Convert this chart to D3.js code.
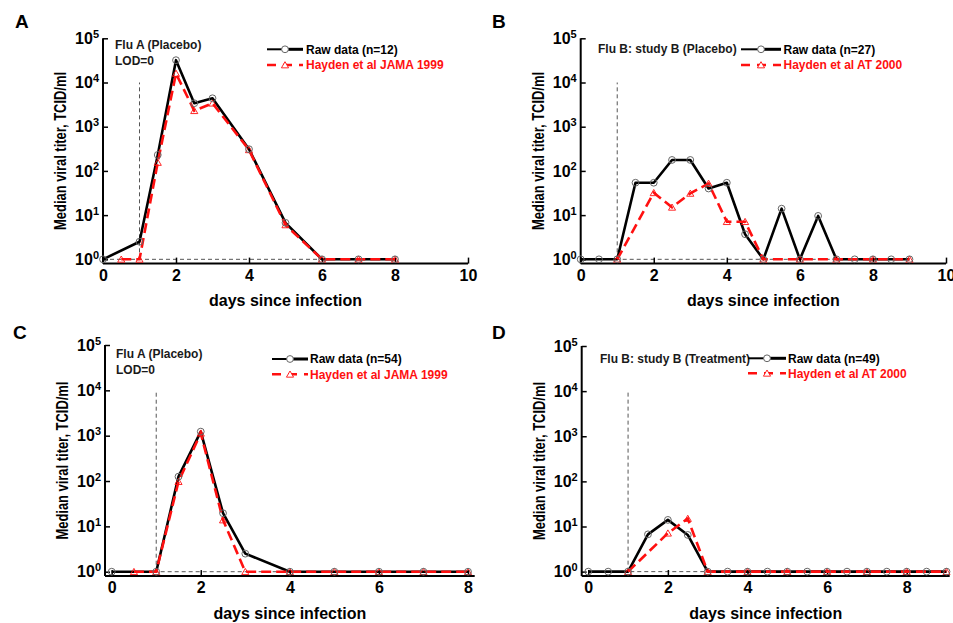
<!DOCTYPE html>
<html>
<head>
<meta charset="utf-8">
<script src="https://cdn.jsdelivr.net/npm/d3@7"></script>
<style>
  html, body { margin: 0; padding: 0; background: #fff; }
  svg { display: block; font-family: "Liberation Sans", Arial, sans-serif; }
</style>
</head>
<body>
<svg id="chart" width="953" height="623"></svg>
<script>
// ---- data: median viral titer (TCID/ml) by day since infection ----
const daysA_raw = [0, 1, 1.5, 2, 2.5, 3, 4, 5, 6, 7, 8];
const titerA_raw = [1, 2.5, 230, 32000, 3400, 4400, 310, 6.7, 1, 1, 1];
const daysA_hay = [0.5, 1, 1.5, 2, 2.5, 3, 4, 5, 6, 7, 8];
const titerA_hay = [1, 1, 155, 16000, 2300, 3400, 300, 6.0, 1, 1, 1];

const daysB_raw = [0, 0.5, 1, 1.5, 2, 2.5, 3, 3.5, 4, 4.5, 5, 5.5, 6, 6.5, 7, 7.5, 8, 8.5, 9];
const titerB_raw = [1, 1, 1, 54, 54, 177, 177, 40, 54, 3.7, 1, 14, 1, 9.6, 1, 1, 1, 1, 1];
const daysB_hay = [1, 2, 2.5, 3, 3.5, 4, 4.5, 5, 6, 7, 8, 9];
const titerB_hay = [1, 32, 15, 31, 52, 7.1, 7.1, 1, 1, 1, 1, 1];

const daysC_raw = [0, 1, 1.5, 2, 2.5, 3, 4, 5, 6, 7, 8];
const titerC_raw = [1, 1, 125, 1230, 19.5, 2.5, 1, 1, 1, 1, 1];
const daysC_hay = [0.5, 1, 1.5, 2, 2.5, 3, 4, 5, 6, 7, 8];
const titerC_hay = [1, 1, 97, 1130, 13.8, 1, 1, 1, 1, 1, 1];

const daysD_raw = [0, 0.5, 1, 1.5, 2, 2.5, 3, 3.5, 4, 4.5, 5, 5.5, 6, 6.5, 7, 7.5, 8, 8.5, 9];
const titerD_raw = [1, 1, 1, 6.7, 14, 6.5, 1, 1, 1, 1, 1, 1, 1, 1, 1, 1, 1, 1, 1];
const daysD_hay = [1, 2, 2.5, 3, 4, 5, 6, 7, 8, 9];
const titerD_hay = [1, 7.1, 15, 1, 1, 1, 1, 1, 1, 1];

const panelLetters = ["A", "B", "C", "D"];
const studyTitles = ["Flu A (Placebo)", "Flu B: study B (Placebo)", "Flu A (Placebo)", "Flu B: study B (Treatment)"];
const lodNotes = ["LOD=0", null, "LOD=0", null];
const rawLabels = ["Raw data (n=12)", "Raw data (n=27)", "Raw data (n=54)", "Raw data (n=49)"];
const refLabels = ["Hayden et al JAMA 1999", "Hayden et al AT 2000", "Hayden et al JAMA 1999", "Hayden et al AT 2000"];
const xTicksAB = [0, 2, 4, 6, 8, 10];
const xTicksCD = [0, 2, 4, 6, 8];
const yTicks = [1, 10, 100, 1000, 10000, 100000];
const lodDay = 1;

const xLabel = "days since infection";
const yLabel = "Median viral titer, TCID/ml";

// ---- layout of the four panels ----
const panels = [
  { raw: [daysA_raw, titerA_raw], hay: [daysA_hay, titerA_hay], xDom: [0, 10], xRange: [103, 468],
    yRange: [263.6, 38.3], xTicks: xTicksAB, lodEnd: 8,
    letter: [15, 28], title: [115, 48.5], lod: [115, 65],
    leg: { x0: 267, x1: 303, tx: 306, y1: 49.3, y2: 65 } },
  { raw: [daysB_raw, titerB_raw], hay: [daysB_hay, titerB_hay], xDom: [0, 10], xRange: [580.7, 946],
    yRange: [263.6, 38.3], xTicks: xTicksAB, lodEnd: 9,
    letter: [492, 28], title: [598, 53], lod: null,
    leg: { x0: 741, x1: 781, tx: 783.5, y1: 49.3, y2: 65 } },
  { raw: [daysC_raw, titerC_raw], hay: [daysC_hay, titerC_hay], xDom: [-0.15, 8.15], xRange: [105, 474.7],
    yRange: [576.1, 345], xTicks: xTicksCD, lodEnd: 8,
    letter: [13, 339], title: [116, 358.3], lod: [116, 373.5],
    leg: { x0: 272, x1: 308, tx: 310, y1: 359, y2: 374.3 } },
  { raw: [daysD_raw, titerD_raw], hay: [daysD_hay, titerD_hay], xDom: [-0.165, 9.08], xRange: [581.7, 949.7],
    yRange: [576, 346], xTicks: xTicksCD, lodEnd: 9,
    letter: [492, 339], title: [600, 362.7], lod: null,
    leg: { x0: 748, x1: 786, tx: 788, y1: 358.3, y2: 373.3 } }
];

const svg = d3.select("#chart");
const INK = "#000";
const TEXT = "#1a1a1a";
const RED = "#ff1010";
const GRAY = "#555";

const triangle = d3.symbol().type(d3.symbolTriangle).size(22);

function superscriptTicks(sel) {
  sel.selectAll(".tick text").each(function(d) {
    const t = d3.select(this);
    const exp = Math.round(Math.log10(d));
    t.text(null);
    t.append("tspan").text("10");
    t.append("tspan").attr("font-size", 11).attr("dy", "-0.55em").text(exp);
  });
}

panels.forEach((p, i) => {
  const g = svg.append("g");
  const x = d3.scaleLinear().domain(p.xDom).range(p.xRange);
  const y = d3.scaleLog().domain([0.8, 1e5]).range(p.yRange);
  const x0 = p.xRange[0], yb = p.yRange[0];

  // panel letter
  g.append("text").attr("x", p.letter[0]).attr("y", p.letter[1])
    .attr("font-size", 19).attr("font-weight", "bold").attr("fill", INK).text(panelLetters[i]);

  // limit-of-detection guides
  g.append("line")
    .attr("x1", x(0)).attr("x2", x(p.lodEnd)).attr("y1", y(1)).attr("y2", y(1))
    .attr("stroke", GRAY).attr("stroke-width", 1).attr("stroke-dasharray", "4,3");
  g.append("line")
    .attr("x1", x(lodDay)).attr("x2", x(lodDay)).attr("y1", y(1)).attr("y2", y(1e4))
    .attr("stroke", GRAY).attr("stroke-width", 1).attr("stroke-dasharray", "4,3");

  // axes
  const xAxis = d3.axisBottom(x).tickValues(p.xTicks).tickSize(-6).tickSizeOuter(0).tickPadding(6)
    .tickFormat(d3.format("d"));
  const gx = g.append("g").attr("transform", `translate(0,${yb})`).call(xAxis);
  gx.select(".domain").attr("stroke", INK).attr("stroke-width", 2)
    .attr("d", `M${x0},0H${p.xRange[1]}`);
  gx.selectAll(".tick line").attr("stroke", INK).attr("stroke-width", 1.5);
  gx.selectAll(".tick text").attr("font-size", 16).attr("font-weight", "bold").attr("fill", INK)
    .attr("font-family", "Liberation Sans, Arial, sans-serif");

  const yAxis = d3.axisLeft(y).tickValues(yTicks).tickSize(-5).tickSizeOuter(0).tickPadding(4);
  const gy = g.append("g").attr("transform", `translate(${x0},0)`).call(yAxis);
  gy.select(".domain").attr("stroke", INK).attr("stroke-width", 2)
    .attr("d", `M0,${yb}V${p.yRange[1]}`);
  gy.selectAll(".tick line").attr("stroke", INK).attr("stroke-width", 1.5);
  gy.selectAll(".tick text").attr("font-size", 16).attr("font-weight", "bold").attr("fill", INK)
    .attr("font-family", "Liberation Sans, Arial, sans-serif");
  superscriptTicks(gy);

  // axis titles
  g.append("text")
    .attr("x", (p.xRange[0] + p.xRange[1]) / 2).attr("y", yb + 42.5)
    .attr("text-anchor", "middle").attr("font-size", 16).attr("font-weight", "bold").attr("fill", INK)
    .text(xLabel);
  const yc = (p.yRange[0] + p.yRange[1]) / 2;
  g.append("text")
    .attr("transform", `translate(${x0 - 37},${yc}) rotate(-90)`)
    .attr("text-anchor", "middle").attr("font-size", 16).attr("font-weight", "bold").attr("fill", INK)
    .attr("textLength", 158).attr("lengthAdjust", "spacingAndGlyphs")
    .text(yLabel);

  // series
  const line = d3.line().x(d => x(d[0])).y(d => y(d[1]));
  const rawPts = p.raw[0].map((d, k) => [d, p.raw[1][k]]);
  const hayPts = p.hay[0].map((d, k) => [d, p.hay[1][k]]);

  g.append("path").datum(rawPts).attr("d", line)
    .attr("fill", "none").attr("stroke", INK).attr("stroke-width", 2.6).attr("stroke-linejoin", "round");
  g.append("path").datum(hayPts).attr("d", line)
    .attr("fill", "none").attr("stroke", RED).attr("stroke-width", 2.6).attr("stroke-dasharray", "10,5");

  g.selectAll(".tri").data(hayPts).join("path")
    .attr("transform", d => `translate(${x(d[0])},${y(d[1]) + 0.8})`)
    .attr("d", triangle).attr("fill", "none").attr("stroke", RED).attr("stroke-width", 0.9);
  g.selectAll(".circ").data(rawPts).join("circle")
    .attr("cx", d => x(d[0])).attr("cy", d => y(d[1])).attr("r", 3.4)
    .attr("fill", "none").attr("stroke", "#666").attr("stroke-width", 1);

  // study title
  g.append("text").attr("x", p.title[0]).attr("y", p.title[1])
    .attr("font-size", 12).attr("font-weight", "bold").attr("fill", TEXT).text(studyTitles[i]);
  if (p.lod) {
    g.append("text").attr("x", p.lod[0]).attr("y", p.lod[1])
      .attr("font-size", 12).attr("font-weight", "bold").attr("fill", TEXT).text(lodNotes[i]);
  }

  // legend
  const L = p.leg, xm = (L.x0 + L.x1) / 2;
  g.append("line").attr("x1", L.x0).attr("x2", xm).attr("y1", L.y1).attr("y2", L.y1)
    .attr("stroke", INK).attr("stroke-width", 2);
  g.append("line").attr("x1", xm).attr("x2", L.x1).attr("y1", L.y1).attr("y2", L.y1)
    .attr("stroke", INK).attr("stroke-width", 3);
  g.append("circle").attr("cx", xm).attr("cy", L.y1).attr("r", 3.4)
    .attr("fill", "#fff").attr("stroke", "#666").attr("stroke-width", 1);
  g.append("text").attr("x", L.tx).attr("y", L.y1 + 4.3)
    .attr("font-size", 12).attr("font-weight", "bold").attr("fill", INK).text(rawLabels[i]);

  g.append("line").attr("x1", L.x0).attr("x2", L.x1).attr("y1", L.y2).attr("y2", L.y2)
    .attr("stroke", RED).attr("stroke-width", 2.6).attr("stroke-dasharray", "9,7");
  g.append("path").attr("transform", `translate(${xm},${L.y2 + 0.8})`)
    .attr("d", triangle).attr("fill", "#fff").attr("stroke", RED).attr("stroke-width", 0.9);
  g.append("text").attr("x", L.tx).attr("y", L.y2 + 4.3)
    .attr("font-size", 12).attr("font-weight", "bold").attr("fill", RED).text(refLabels[i]);
});
</script>
</body>
</html>
